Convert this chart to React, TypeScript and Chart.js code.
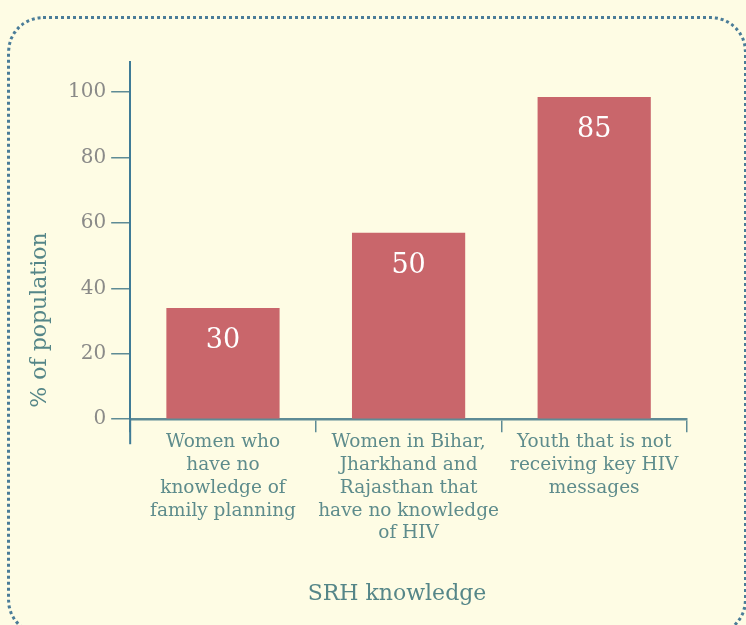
import React, { useEffect, useRef } from "react";
import { Chart, registerables } from "chart.js";

Chart.register(...registerables);

// ---- data ----
const categories: string[][] = [
  ["Women who", "have no", "knowledge of", "family planning"],
  ["Women in Bihar,", "Jharkhand and", "Rajasthan that", "have no knowledge", "of HIV"],
  ["Youth that is not", "receiving key HIV", "messages"],
];
const barValues: number[] = [34, 57, 98.5];
const barLabels: string[] = ["30", "50", "85"];
const yTickValues: number[] = [0, 20, 40, 60, 80, 100];
const yTitle = "% of population";
const xTitle = "SRH knowledge";

// ---- styles ----
const FONT = "'DejaVu Serif', serif";
const BG = "#FEFCE4";
const BAR = "#C9666B";
const Y_AXIS = "#3F7B96";
const X_AXIS = "#5E8B95";
const Y_TICK_TEXT = "#8A8A88";
const X_TICK_TEXT = "#5E8C8C";
const TITLE = "#558688";

const overlayPlugin = {
  id: "overlay",
  afterDatasetsDraw(chart: any) {
    const ctx = chart.ctx;
    const meta = chart.getDatasetMeta(0);
    ctx.save();
    ctx.fillStyle = "#FFFFFF";
    ctx.font = `27px ${FONT}`;
    ctx.textAlign = "center";
    ctx.textBaseline = "middle";
    meta.data.forEach((bar: any, i: number) => {
      ctx.fillText(barLabels[i], bar.x, bar.y + 33);
    });
    ctx.restore();
  },
  afterDraw(chart: any) {
    const ctx = chart.ctx;
    const area = chart.chartArea;
    ctx.save();
    // y-axis extension below the x-axis
    ctx.strokeStyle = Y_AXIS;
    ctx.lineWidth = 2;
    ctx.beginPath();
    ctx.moveTo(area.left, area.bottom);
    ctx.lineTo(area.left, area.bottom + 25);
    ctx.stroke();
    // axis titles
    ctx.fillStyle = TITLE;
    ctx.font = `22px ${FONT}`;
    ctx.textAlign = "center";
    ctx.textBaseline = "middle";
    ctx.fillText(xTitle, 397, 594);
    ctx.translate(40, 320);
    ctx.rotate(-Math.PI / 2);
    ctx.fillText(yTitle, 0, 0);
    ctx.restore();
  },
};

export default function App() {
  const ref = useRef<HTMLCanvasElement>(null);

  useEffect(() => {
    if (!ref.current) return;
    const chart = new Chart(ref.current, {
      type: "bar",
      data: {
        labels: categories,
        datasets: [
          {
            data: barValues,
            backgroundColor: BAR,
            borderWidth: 0,
            barPercentage: 0.61,
            categoryPercentage: 1,
          },
        ],
      },
      options: {
        responsive: false,
        animation: false,
        devicePixelRatio: 1,
        layout: { padding: { left: 63, top: 62, right: 59, bottom: 81 } },
        plugins: {
          legend: { display: false },
          tooltip: { enabled: false },
        },
        scales: {
          x: {
            grid: {
              display: true,
              drawOnChartArea: false,
              drawTicks: true,
              tickLength: 13,
              color: X_AXIS,
              lineWidth: 1.5,
              offset: true,
            },
            border: { display: true, color: X_AXIS, width: 2.5 },
            ticks: {
              color: X_TICK_TEXT,
              font: { family: FONT, size: 18.5, lineHeight: 1.23 },
              padding: -1,
              maxRotation: 0,
              minRotation: 0,
              autoSkip: false,
            },
          },
          y: {
            min: 0,
            max: 109.2,
            afterBuildTicks: (scale: any) => {
              scale.ticks = yTickValues.map((v) => ({ value: v }));
            },
            grid: {
              display: true,
              drawOnChartArea: false,
              drawTicks: true,
              tickLength: 19,
              color: X_AXIS,
              lineWidth: 1.5,
            },
            border: { display: true, color: Y_AXIS, width: 2 },
            ticks: {
              color: Y_TICK_TEXT,
              font: { family: FONT, size: 20 },
              padding: 5,
            },
          },
        },
      },
      plugins: [overlayPlugin],
    });
    return () => chart.destroy();
  }, []);

  return (
    <div
      style={{
        position: "fixed",
        left: 0,
        top: 0,
        width: 746,
        height: 625,
        background: BG,
        overflow: "hidden",
      }}
    >
      <div
        style={{
          position: "absolute",
          left: 7,
          top: 16,
          width: 740,
          height: 620,
          boxSizing: "border-box",
          border: "3px dotted #4A7C98",
          borderRadius: 36,
        }}
      />
      <canvas
        ref={ref}
        width={746}
        height={625}
        style={{ position: "absolute", left: 0, top: 0 }}
      />
    </div>
  );
}
